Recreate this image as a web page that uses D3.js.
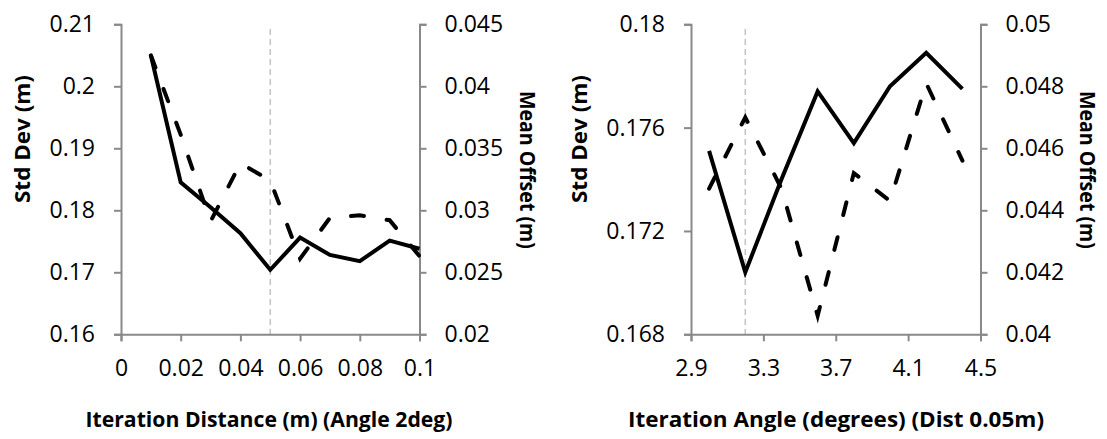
<!DOCTYPE html>
<html>
<head>
<meta charset="utf-8">
<script src="https://cdn.jsdelivr.net/npm/d3@7"></script>
<style>
  body { margin: 0; background: #fff; }
  text { font-family: "Open Sans", "Noto Sans", sans-serif; fill: #000; }
</style>
</head>
<body>
<div id="canvas"></div>
<script>
const w = 1107;
const h = 439;

// left panel: iteration distance
const distX = [0.01, 0.02, 0.03, 0.04, 0.05, 0.06, 0.07, 0.08, 0.09, 0.1];
const distStd = [0.2050, 0.1845, 0.1805, 0.1763, 0.1704, 0.1756, 0.1728, 0.1718, 0.1751, 0.1738];
const distOffset = [0.0425, 0.0361, 0.0291, 0.0338, 0.0324, 0.0261, 0.0294, 0.0296, 0.0292, 0.0263];
const distXTicks = [0, 0.02, 0.04, 0.06, 0.08, 0.1];
const distStdTicks = [0.16, 0.17, 0.18, 0.19, 0.2, 0.21];
const distOffTicks = [0.02, 0.025, 0.03, 0.035, 0.04, 0.045];
const distRef = 0.05;

// right panel: iteration angle
const angleX = [3.0, 3.2, 3.4, 3.6, 3.8, 4.0, 4.2, 4.4];
const angleStd = [0.1751, 0.1704, 0.1740, 0.1774, 0.1754, 0.1776, 0.1789, 0.1775];
const angleOffset = [0.0447, 0.0470, 0.0447, 0.0406, 0.0452, 0.0443, 0.0481, 0.0456];
const angleXTicks = [2.9, 3.3, 3.7, 4.1, 4.5];
const angleStdTicks = [0.168, 0.172, 0.176, 0.18];
const angleOffTicks = [0.04, 0.042, 0.044, 0.046, 0.048, 0.05];
const angleRef = 3.2;

const axisColor = "#898989";
const plotTop = 24.3, plotBottom = 334.3;
const fmt = d => String(+d.toFixed(4));

let svg = d3.select("#canvas")
            .append("svg")
            .attr("width", w)
            .attr("height", h);

function panel(cfg) {
  const x = d3.scaleLinear().domain(d3.extent(cfg.xTicks)).range([cfg.left, cfg.right]);
  const yL = d3.scaleLinear().domain(d3.extent(cfg.stdTicks)).range([plotBottom, plotTop]);
  const yR = d3.scaleLinear().domain(d3.extent(cfg.offTicks)).range([plotBottom, plotTop]);

  let g = svg.append("g");

  // reference line
  g.append("line")
    .attr("x1", x(cfg.ref)).attr("x2", x(cfg.ref))
    .attr("y1", 29).attr("y2", plotBottom)
    .attr("stroke", "#c3c3c3")
    .attr("stroke-width", 1.5)
    .attr("stroke-dasharray", "6,4");

  const axisStyle = sel => {
    sel.select(".domain").attr("stroke", axisColor).attr("stroke-width", 2);
    sel.selectAll(".tick line").attr("stroke", axisColor).attr("stroke-width", 2);
    sel.selectAll(".tick text").style("font-size", "23px").attr("fill", "#000");
  };

  g.append("g")
    .attr("transform", "translate(0," + plotBottom + ")")
    .call(d3.axisBottom(x).tickValues(cfg.xTicks).tickFormat(fmt).tickSizeOuter(0).tickSize(7).tickPadding(18))
    .call(axisStyle);

  g.append("g")
    .attr("transform", "translate(" + cfg.left + ",0)")
    .call(d3.axisLeft(yL).tickValues(cfg.stdTicks).tickFormat(fmt).tickSizeOuter(0).tickSize(7).tickPadding(19))
    .call(axisStyle);

  g.append("g")
    .attr("transform", "translate(" + cfg.right + ",0)")
    .call(d3.axisRight(yR).tickValues(cfg.offTicks).tickFormat(fmt).tickSizeOuter(0).tickSize(7).tickPadding(18))
    .call(axisStyle);

  const pts = cfg.xs.map((d, i) => ({x: d, s: cfg.std[i], o: cfg.off[i]}));

  g.append("path")
    .datum(pts)
    .attr("fill", "none")
    .attr("stroke", "#000")
    .attr("stroke-width", 4)
    .attr("stroke-linejoin", "miter")
    .attr("d", d3.line().x(d => x(d.x)).y(d => yL(d.s)));

  g.append("path")
    .datum(pts)
    .attr("fill", "none")
    .attr("stroke", "#000")
    .attr("stroke-width", 4)
    .attr("stroke-linecap", "round")
    .attr("stroke-dasharray", "13,23")
    .attr("d", d3.line().x(d => x(d.x)).y(d => yR(d.o)));

  // axis titles
  g.append("text")
    .attr("transform", "translate(" + cfg.stdLabelX + ",139) rotate(-90)")
    .attr("text-anchor", "middle")
    .attr("textLength", 128)
    .attr("lengthAdjust", "spacingAndGlyphs")
    .style("font-size", "22px")
    .style("font-weight", "bold")
    .text("Std Dev (m)");

  g.append("text")
    .attr("transform", "translate(" + cfg.offLabelX + ",170) rotate(90)")
    .attr("text-anchor", "middle")
    .attr("textLength", 158)
    .attr("lengthAdjust", "spacingAndGlyphs")
    .style("font-size", "21px")
    .style("font-weight", "bold")
    .text("Mean Offset (m)");

  g.append("text")
    .attr("x", cfg.titleX)
    .attr("y", 427)
    .attr("text-anchor", "middle")
    .attr("textLength", cfg.titleLen)
    .attr("lengthAdjust", "spacingAndGlyphs")
    .style("font-size", "22px")
    .style("font-weight", "bold")
    .text(cfg.title);
}

panel({
  left: 121, right: 419.5,
  xs: distX, std: distStd, off: distOffset,
  xTicks: distXTicks, stdTicks: distStdTicks, offTicks: distOffTicks,
  ref: distRef,
  stdLabelX: 30, offLabelX: 520,
  title: "Iteration Distance (m) (Angle 2deg)", titleX: 269, titleLen: 367
});

panel({
  left: 691, right: 980.5,
  xs: angleX, std: angleStd, off: angleOffset,
  xTicks: angleXTicks, stdTicks: angleStdTicks, offTicks: angleOffTicks,
  ref: angleRef,
  stdLabelX: 587, offLabelX: 1080,
  title: "Iteration Angle (degrees) (Dist 0.05m)", titleX: 836, titleLen: 416
});
</script>
</body>
</html>
